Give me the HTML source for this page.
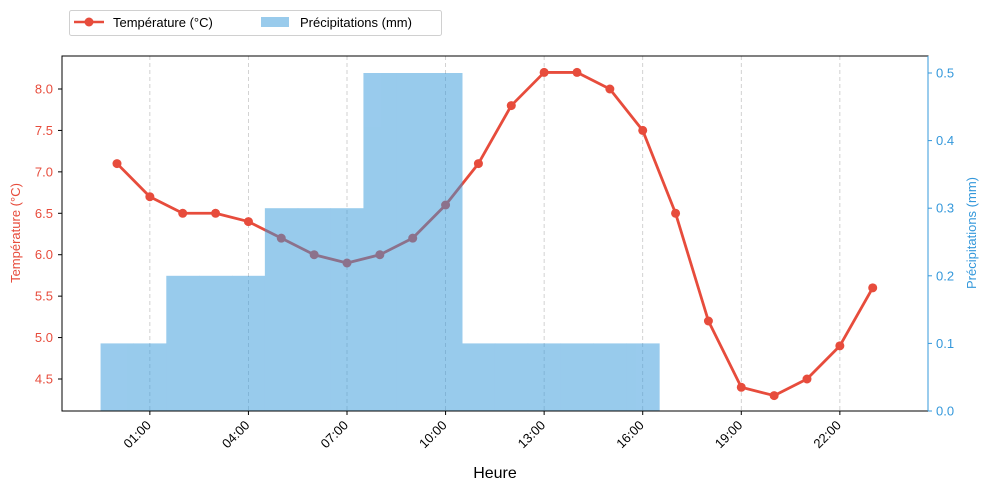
<!DOCTYPE html>
<html><head><meta charset="utf-8"><style>
body{margin:0;background:#fff;}
svg text{font-family:"Liberation Sans","DejaVu Sans",sans-serif;}
</style></head><body>
<svg id="chart" width="989" height="492" xmlns="http://www.w3.org/2000/svg"></svg>
<script>
const hours = [0,1,2,3,4,5,6,7,8,9,10,11,12,13,14,15,16,17,18,19,20,21,22,23];
const temperatures = [7.1,6.7,6.5,6.5,6.4,6.2,6.0,5.9,6.0,6.2,6.6,7.1,7.8,8.2,8.2,8.0,7.5,6.5,5.2,4.4,4.3,4.5,4.9,5.6];
const precipitation = [0.1,0.1,0.2,0.2,0.2,0.3,0.3,0.3,0.5,0.5,0.5,0.1,0.1,0.1,0.1,0.1,0.1,0,0,0,0,0,0,0];
const xTickHours = [1,4,7,10,13,16,19,22];
const xTickLabels = ["01:00","04:00","07:00","10:00","13:00","16:00","19:00","22:00"];
const tempTicks = [4.5,5.0,5.5,6.0,6.5,7.0,7.5,8.0];
const precTicks = [0.0,0.1,0.2,0.3,0.4,0.5];

const L=62,R=928,T=56,B=411;
const x=h=>117+(h)*690/21;
const yT=v=>89+(8.0-v)*(290/3.5);
const yP=v=>411-v*676;
const svg=document.getElementById('chart');
const NS='http://www.w3.org/2000/svg';
function mk(tag,attrs,parent){const e=document.createElementNS(NS,tag);for(const k in attrs)e.setAttribute(k,attrs[k]);(parent||svg).appendChild(e);return e;}

xTickHours.forEach((h,i)=>{
  const g=mk('line',{x1:x(h),x2:x(h),y1:T,y2:B,stroke:'#b0b0b0','stroke-width':0.8,'stroke-dasharray':'4,3',opacity:0.7});
  
  
});
const pts=hours.map((h,i)=>x(h)+','+yT(temperatures[i])).join(' ');
const line=mk('polyline',{points:pts,fill:'none',stroke:'#e74c3c','stroke-width':2.8,'stroke-linejoin':'round'});


hours.forEach((h,i)=>{
  const c=mk('circle',{cx:x(h),cy:yT(temperatures[i]),r:4.5,fill:'#e74c3c'});
  
  
});
const barGroup=mk('g',{opacity:0.5});


hours.forEach((h,i)=>{
  if(precipitation[i]<=0)return;
  const r=mk('rect',{x:x(h-0.5),y:yP(precipitation[i]),width:x(h+0.5)-x(h-0.5)+0.5,height:B-yP(precipitation[i]),fill:'#3498db'},barGroup);
  
  
});
const fr=mk('rect',{x:L,y:T,width:R-L,height:B-T,fill:'none',stroke:'#000','stroke-width':1});


tempTicks.forEach(v=>{
  mk('line',{x1:L-4,x2:L,y1:yT(v),y2:yT(v),stroke:'#000'});
  const t=mk('text',{x:L-9,y:yT(v)+4.5,'text-anchor':'end','font-size':13,fill:'#e74c3c'});
  t.textContent=v.toFixed(1);
  
  
});
precTicks.forEach(v=>{
  mk('line',{x1:R,x2:R+4,y1:yP(v),y2:yP(v),stroke:'#3498db'});
  const t=mk('text',{x:R+8,y:yP(v)+4.5,'font-size':13,fill:'#3498db'});
  t.textContent=v.toFixed(1);
  
  
});
mk('line',{x1:R,x2:R,y1:T,y2:B,stroke:'#3498db','stroke-width':1});
xTickHours.forEach((h,i)=>{
  mk('line',{x1:x(h),x2:x(h),y1:B,y2:B+4,stroke:'#000'});
  const ax=x(h)+2, ay=B+15;
  const t=mk('text',{x:ax,y:ay,'text-anchor':'end','font-size':13,fill:'#000',transform:`rotate(-45 ${ax} ${ay})`});
  t.textContent=xTickLabels[i];
  
  
});
</script>
<svg style="position:absolute;left:0;top:0" width="989" height="492" xmlns="http://www.w3.org/2000/svg" pointer-events="none">
<text x="495" y="478" text-anchor="middle" font-size="16" font-family="Liberation Sans, sans-serif">Heure</text>
<text transform="translate(20 233) rotate(-90)" text-anchor="middle" font-size="13" fill="#e74c3c" font-family="Liberation Sans, sans-serif">Température (°C)</text>
<text transform="translate(976 233) rotate(-90)" text-anchor="middle" font-size="13" fill="#3498db" font-family="Liberation Sans, sans-serif">Précipitations (mm)</text>
<g>
<rect x="69.5" y="10.5" width="372" height="25" rx="2" fill="#fff" stroke="#d0d0d0"/>
<line x1="74" x2="104" y1="22" y2="22" stroke="#e74c3c" stroke-width="2.6"/>
<circle cx="89" cy="22" r="4.5" fill="#e74c3c"/>
<text x="113" y="27" font-size="13" font-family="Liberation Sans, sans-serif">Température (°C)</text>
<rect x="261" y="17" width="28" height="10" fill="#99cbec"/>
<text x="300" y="27" font-size="13" font-family="Liberation Sans, sans-serif">Précipitations (mm)</text>
</g>
</svg>
</body></html>
